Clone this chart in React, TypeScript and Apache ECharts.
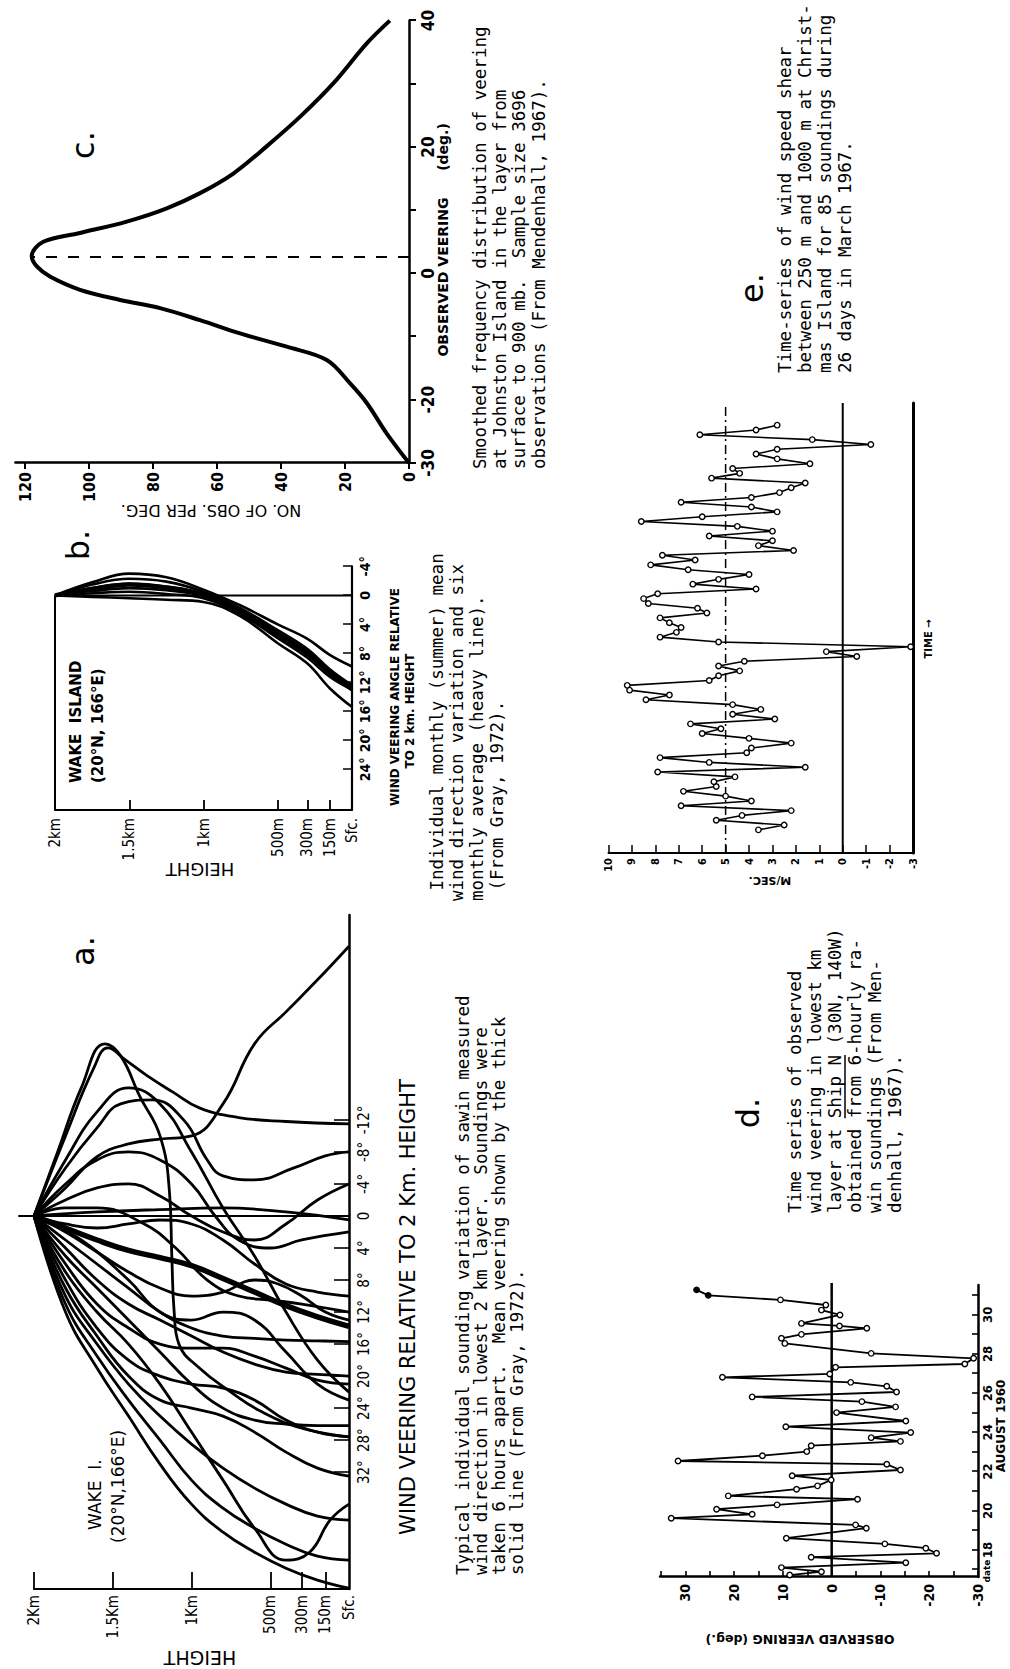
import React, { useEffect, useRef } from 'react';
import * as echarts from 'echarts';

// Landscape drawing surface (the page is the figure turned a quarter turn)
const W = 1669;
const H = 1010;

// ---------- Panel a: individual soundings, Wake I. ([veering deg, height m]) ----------
const A_CURVES: number[][][] = [
  [[0, 2000], [-3.5, 1800], [-7.4, 1600], [-9, 1400], [-9.6, 1200], [-10, 1000], [-14, 800], [-21.5, 600], [-25.5, 400], [-29.5, 200], [-33.7, 0]],
  [[0, 2000], [-10, 1800], [-18.5, 1620], [-21, 1530], [-19.5, 1420], [-17.5, 1280], [-15.5, 1120], [-13.5, 950], [-12.3, 700], [-11.8, 400], [-11.5, 0]],
  [[0, 2000], [-8, 1850], [-16, 1700], [-21.5, 1550], [-20, 1450], [-15, 1330], [-10, 1200], [-3, 1140], [5, 1125], [12, 1110], [16, 1080], [19, 950], [22, 750], [24.5, 550], [26.5, 300], [27.6, 0]],
  [[0, 2000], [-6, 1800], [-11, 1600], [-14, 1450], [-14.5, 1250], [-12, 1050], [-7, 900], [-5, 800], [-4.5, 600], [-6, 350], [-7.5, 150], [-8, 0]],
  [[0, 2000], [-4, 1800], [-7, 1600], [-8, 1400], [-7, 1200], [-4, 1000], [0, 850], [3, 700], [4, 500], [3, 300], [2, 0]],
  [[0, 2000], [-2, 1800], [-3.5, 1600], [-4, 1400], [-2.5, 1200], [0, 1000], [2, 800], [3, 600], [1, 400], [-2, 200], [-4, 0]],
  [[0, 2000], [-0.5, 1600], [-0.8, 1200], [-1, 800], [-0.5, 400], [0.5, 0]],
  [[0, 2000], [1, 1800], [1.5, 1600], [1, 1400], [0.5, 1200], [1, 1000], [3, 800], [6, 600], [8.5, 400], [9.5, 200], [10, 0]],
  [[0, 2000], [2, 1800], [4.5, 1600], [7, 1400], [9, 1200], [10, 1000], [9.5, 800], [8, 600], [8.5, 450], [10, 300], [12, 150], [13, 0]],
  [[0, 2000], [3, 1800], [6, 1600], [9, 1400], [12, 1200], [14, 1000], [15, 800], [15.3, 600], [15.5, 400], [15.6, 200], [15.7, 0]],
  [[0, 2000], [4, 1800], [8, 1600], [11, 1400], [13, 1200], [15, 1000], [17, 800], [18.5, 600], [19.5, 400], [19.8, 200], [20, 0]],
  [[0, 2000], [6, 1800], [11, 1600], [14, 1400], [16, 1200], [16.5, 1000], [16.5, 800], [17.5, 600], [19, 400], [20.5, 200], [21, 0]],
  [[0, 2000], [5, 1800], [9, 1600], [13, 1400], [17, 1200], [21, 1000], [24, 800], [25.5, 600], [26, 400], [26.2, 200], [26.2, 0]],
  [[0, 2000], [8, 1800], [14, 1600], [18, 1400], [20, 1200], [21, 1000], [21.5, 800], [23, 600], [25.5, 400], [27, 200], [27.6, 0]],
  [[0, 2000], [9, 1800], [15, 1600], [20, 1400], [23, 1200], [24, 1000], [25, 800], [27, 600], [29.5, 400], [31.5, 200], [32.5, 0]],
  [[0, 2000], [10, 1800], [16, 1600], [21, 1400], [25, 1200], [28.5, 1000], [31.5, 800], [34, 600], [36, 400], [37.5, 200], [38, 0]],
  [[0, 2000], [11, 1800], [17.5, 1600], [23, 1400], [28, 1200], [33, 1000], [36.5, 800], [39, 600], [41, 400], [42.5, 200], [43, 0]],
  [[0, 2000], [12, 1800], [19, 1600], [25, 1400], [31, 1200], [36, 1000], [39.5, 800], [42, 600], [44, 400], [45.5, 200], [46.5, 0]],
  [[0, 2000], [7, 1800], [12, 1600], [16, 1400], [21, 1200], [27, 1000], [33, 800], [39, 600], [43, 400], [42, 250], [38, 120], [36, 0]],
  [[0, 2000], [-7, 1800], [-13, 1600], [-16, 1400], [-14, 1200], [-8, 1000], [-1, 800], [5, 600], [12, 400], [18, 200], [22, 0]],
  [[0, 2000], [3, 1700], [8, 1400], [12, 1200], [13, 1000], [12, 800], [13, 600], [17, 400], [21, 200], [23, 0]],
  [[0, 2000], [-1, 1800], [-1, 1600], [1, 1300], [4, 1100], [8, 900], [10, 700], [10.5, 500], [11, 300], [12, 0]],
];
const A_MEAN: number[][] = [[0, 2000], [1.5, 1800], [3, 1600], [4.3, 1400], [5.2, 1200], [6.2, 1000], [7.8, 800], [9.5, 600], [11.2, 400], [12.6, 200], [13.8, 0]];
const A_X_MIN = -37.6;
const A_X_MAX = 46.6;
const A_ZERO_TOP = 2100;
const A_X_TICKS = [-12, -8, -4, 0, 4, 8, 12, 16, 20, 24, 28, 32];
const A_Y_TICKS = [150, 300, 500, 1000, 1500, 2000];
const A_Y_LABEL_VALUES = [0, 150, 300, 500, 1000, 1500, 2000];
const A_Y_LABELS = ['Sfc.', '150m', '300m', '500m', '1Km', '1.5Km', '2Km'];

// ---------- Panel b: monthly means, Wake Island ----------
const B_HEIGHTS = [2000, 1750, 1500, 1250, 1000, 750, 500, 300, 150, 0];
const B_CURVES = [
  [0, -1.8, -3.0, -2.5, -0.8, 1.4, 4.0, 6.0, 8.2, 9.8],
  [0, -1.5, -2.3, -1.9, -0.5, 1.8, 4.8, 7.4, 10.2, 12.4],
  [0, -1.0, -1.6, -1.2, -0.2, 2.1, 5.2, 7.8, 10.4, 12.8],
  [0, -0.6, -1.0, -0.7, 0.1, 2.4, 5.6, 8.2, 10.8, 13.1],
  [0, 0.2, 0.4, 0.6, 0.9, 2.9, 6.6, 9.4, 12.8, 15.4],
  [0, -0.3, -0.5, -0.2, 0.4, 2.6, 5.9, 8.6, 11.2, 13.0],
];
const B_MEAN = [0, -0.9, -1.5, -1.1, -0.1, 2.2, 5.3, 7.9, 10.6, 12.7];
const B_X_MAX = 29.6;
const B_X_TICKS = [-4, 0, 4, 8, 12, 16, 20, 24];
const B_Y_LABELS = ['Sfc.', '150m', '300m', '500m', '1km', '1.5km', '2km'];

// ---------- Panel c: frequency distribution, Johnston Island ----------
const C_VEER = [-30, -25.3, -20.5, -17.4, -13.7, -11.6, -9.5, -7.4, -5.5, -4.2, -2.6, -0.5, 1.1, 2.7, 5.0, 6.4, 8.2, 10.3, 12.7, 15.8, 20.1, 24.8, 30.1, 36.4, 40];
const C_COUNT = [0, 7, 13.2, 18.4, 25.7, 38.2, 52.8, 65.3, 77.8, 90.3, 102.8, 112.2, 116.3, 117.9, 114.3, 102.8, 88.2, 75.7, 65.3, 54.9, 44.5, 34, 23.6, 13.2, 6];
const C_PEAK_VEER = 2.6;
const C_PEAK_COUNT = 118;
const C_X_TICKS = [-30, -20, -10, 0, 10, 20, 30, 40];
const C_X_LABELS = [-30, -20, 0, 20, 40];
const C_Y_TICKS = [0, 20, 40, 60, 80, 100, 120];

// ---------- Panel d: time series of veering, Ship N, August 1960 ----------
const D_DAY = [16.72, 16.89, 17.1, 17.35, 17.63, 17.83, 18.09, 18.31, 18.6, 19.11, 19.28, 19.62, 19.82, 20.08, 20.3, 20.59, 20.76, 21.1, 21.27, 21.57, 21.79, 22.08, 22.37, 22.54, 22.81, 23.02, 23.32, 23.54, 23.73, 23.99, 24.29, 24.58, 25.01, 25.3, 25.57, 25.81, 26.06, 26.35, 26.55, 26.81, 26.98, 27.32, 27.49, 27.78, 28.03, 28.54, 28.8, 29.0, 29.31, 29.43, 29.56, 29.99, 30.24, 30.5, 30.76, 30.99, 31.27];
const D_VEER = [8.6, 2.1, 10.3, -15.2, 4.2, -21.5, -19.3, -10.9, 9.3, -7.1, -4.9, 32.9, 16.3, 23.6, 11.2, -5.3, 21.2, 7.2, 2.9, 0.1, 8.1, -14.1, -11.3, 31.5, 14.2, 5.1, 4.2, -14.1, -8.1, -16.2, 9.4, -15.2, -1.0, -13.1, -6.2, 16.3, -13.3, -11.3, -3.9, 22.4, 0.4, -0.8, -27.3, -29.1, -8.1, 9.6, 10.3, 6.2, -7.2, -1.6, 6.2, -1.7, 2.1, 1.2, 10.5, 25.3, 27.7];
const D_X_MIN = 16.62;
const D_X_MAX = 31.52;
const D_ZERO_END = 33.1;
const D_X_TICKS = [17, 18, 19, 20, 21, 22, 23, 24, 25, 26, 27, 28, 29, 30, 31];
const D_X_LABELS = [18, 20, 22, 24, 26, 28, 30];
const D_Y_TICKS = [-30, -25, -20, -15, -10, -5, 0, 5, 10, 15, 20, 25, 30, 35];
const D_Y_LABELS = [-30, -20, -10, 0, 10, 20, 30];

// ---------- Panel e: wind speed shear, Christmas Island, 85 soundings ----------
const E_SHEAR = [3.6, 2.5, 5.4, 4.3, 2.2, 6.9, 3.9, 5.0, 6.8, 5.4, 5.5, 4.6, 7.9, 1.6, 5.7, 7.8, 4.1, 3.9, 2.2, 4.0, 6.0, 5.2, 6.5, 2.9, 4.7, 3.5, 4.7, 8.4, 7.4, 9.1, 9.2, 5.7, 5.3, 4.4, 5.3, 4.2, -0.6, 0.7, -2.9, 5.3, 7.8, 7.1, 6.9, 7.4, 7.8, 5.8, 6.2, 8.3, 8.5, 7.9, 3.7, 6.4, 5.3, 4.0, 6.6, 8.2, 6.3, 7.7, 2.1, 3.6, 3.0, 5.7, 3.0, 4.5, 8.6, 6.0, 2.8, 3.9, 6.9, 3.9, 2.7, 2.2, 1.6, 5.6, 4.4, 4.7, 1.4, 2.8, 3.7, 2.8, -1.2, 1.3, 6.1, 3.7, 2.8];
const E_X_MIN = -4.8;
const E_X_MAX = 88.6;
const E_REF_MEAN = 5;
const E_Y_TICKS = [-3, -2, -1, 0, 1, 2, 3, 4, 5, 6, 7, 8, 9, 10];

// ---------- Captions ----------
const A_CAPTION = [
  'Typical individual sounding variation of sawin measured',
  'wind direction in lowest 2 km layer.  Soundings were',
  'taken 6 hours apart.  Mean veering shown by the thick',
  'solid line (From Gray, 1972).',
];
const B_CAPTION = [
  ' Individual monthly (summer) mean',
  'wind direction variation and six',
  'monthly average (heavy line).',
  ' (From Gray, 1972).',
];
const C_CAPTION = [
  'Smoothed frequency distribution of veering',
  'at Johnston Island in the layer from',
  'surface to 900 mb.  Sample size 3696',
  'observations (From Mendenhall, 1967).',
];
const D_CAPTION = [
  'Time series of observed',
  'wind veering in lowest km',
  'layer at Ship N (30N, 140W)',
  'obtained from 6-hourly ra-',
  'win soundings (From Men-',
  'denhall, 1967).',
];
const E_CAPTION = [
  'Time-series of wind speed shear',
  'between 250 m and 1000 m at Christ-',
  'mas Island for 85 soundings during',
  '26 days in March 1967.',
];

const LETTER = '"Liberation Sans Narrow", "DejaVu Sans Condensed", Roboto, "Liberation Sans", sans-serif';
const SANS = '"DejaVu Sans", "Liberation Sans", sans-serif';
const MONO = '"DejaVu Sans Mono", "Liberation Mono", monospace';
const CAP_SIZE = 17.5;
const CAP_ADV = CAP_SIZE * 0.602;

function T(text: string, x: number, y: number, font: string, align = 'left', rotation = 0) {
  return {
    type: 'text',
    x,
    y,
    rotation,
    silent: true,
    style: {
      text,
      font,
      fill: '#000',
      textAlign: align,
      textVerticalAlign: 'middle',
      align,
      verticalAlign: 'middle',
    },
  };
}

function caption(lines: string[], x: number, y: number, step: number) {
  return lines.map((l, i) => T(l, x, y + i * step, `${CAP_SIZE}px ${MONO}`, 'left'));
}

const deg = (v: number) => (v === 0 ? '0' : `${v}°`);

function valueAxis(grid: number, min: number, max: number, extra: any) {
  return {
    gridIndex: grid,
    type: 'value',
    min,
    max,
    splitLine: { show: false },
    ...extra,
  };
}

function buildOption() {
  const lineBase = {
    type: 'line',
    showSymbol: false,
    symbol: 'none',
    silent: true,
    animation: false,
    color: '#000',
  };

  const series: any[] = [];

  // panel a
  A_CURVES.forEach((c) => {
    series.push({
      ...lineBase,
      xAxisIndex: 0,
      yAxisIndex: 0,
      smooth: 0.45,
      data: c,
      lineStyle: { color: '#000', width: 2.8 },
    });
  });
  series.push({
    ...lineBase,
    xAxisIndex: 0,
    yAxisIndex: 0,
    smooth: 0.45,
    data: A_MEAN,
    lineStyle: { color: '#000', width: 5.5 },
  });
  series.push({
    ...lineBase,
    xAxisIndex: 0,
    yAxisIndex: 0,
    clip: false,
    data: [[0, A_ZERO_TOP], [0, 0]],
    lineStyle: { color: '#000', width: 2 },
  });

  // panel b
  B_CURVES.forEach((c) => {
    series.push({
      ...lineBase,
      xAxisIndex: 1,
      yAxisIndex: 1,
      smooth: 0.4,
      data: B_HEIGHTS.map((h, i) => [c[i], h]),
      lineStyle: { color: '#000', width: 2.6 },
    });
  });
  series.push({
    ...lineBase,
    xAxisIndex: 1,
    yAxisIndex: 1,
    smooth: 0.4,
    data: B_HEIGHTS.map((h, i) => [B_MEAN[i], h]),
    lineStyle: { color: '#000', width: 4.5 },
  });
  series.push({
    ...lineBase,
    xAxisIndex: 1,
    yAxisIndex: 1,
    clip: false,
    data: [[B_X_MAX, 2000], [0, 2000], [0, 0]],
    lineStyle: { color: '#000', width: 2 },
  });

  // panel c
  series.push({
    ...lineBase,
    xAxisIndex: 2,
    yAxisIndex: 2,
    smooth: 0.35,
    data: C_VEER.map((v, i) => [v, C_COUNT[i]]),
    lineStyle: { color: '#000', width: 4 },
  });
  series.push({
    ...lineBase,
    xAxisIndex: 2,
    yAxisIndex: 2,
    data: [[C_PEAK_VEER, 0], [C_PEAK_VEER, C_PEAK_COUNT]],
    lineStyle: { color: '#000', width: 2, type: [11, 11] },
  });

  // panel d
  series.push({
    ...lineBase,
    xAxisIndex: 3,
    yAxisIndex: 3,
    clip: false,
    data: [[D_X_MIN, 0], [D_ZERO_END, 0]],
    lineStyle: { color: '#000', width: 2.5 },
  });
  series.push({
    type: 'line',
    xAxisIndex: 3,
    yAxisIndex: 3,
    silent: true,
    animation: false,
    color: '#000',
    symbol: 'circle',
    symbolSize: 5.5,
    showSymbol: true,
    lineStyle: { color: '#000', width: 1.8 },
    itemStyle: { color: '#fff', borderColor: '#000', borderWidth: 1.4 },
    data: D_DAY.map((d, i) =>
      i >= D_DAY.length - 2
        ? { value: [d, D_VEER[i]], itemStyle: { color: '#000' } }
        : { value: [d, D_VEER[i]] }
    ),
    z: 4,
  });

  // panel e
  series.push({
    ...lineBase,
    xAxisIndex: 4,
    yAxisIndex: 4,
    data: [[E_X_MIN, 0], [E_X_MAX, 0]],
    lineStyle: { color: '#000', width: 2 },
  });
  series.push({
    ...lineBase,
    xAxisIndex: 4,
    yAxisIndex: 4,
    data: [[E_X_MIN, E_REF_MEAN], [E_X_MAX, E_REF_MEAN]],
    lineStyle: { color: '#000', width: 1.5, type: [9, 4, 2, 4] },
  });
  series.push({
    type: 'line',
    xAxisIndex: 4,
    yAxisIndex: 4,
    silent: true,
    animation: false,
    color: '#000',
    symbol: 'circle',
    symbolSize: 5.5,
    showSymbol: true,
    lineStyle: { color: '#000', width: 1.6 },
    itemStyle: { color: '#fff', borderColor: '#000', borderWidth: 1.4 },
    data: E_SHEAR.map((v, i) => [i, v]),
    z: 4,
  });

  const tickStyle = (w: number) => ({ color: '#000', width: w });
  const lab = (size: number, weight = 'normal', margin = 6) => ({
    show: true,
    color: '#000',
    fontFamily: LETTER,
    fontSize: size,
    fontWeight: weight,
    margin,
    showMinLabel: true,
    showMaxLabel: true,
  });

  const xAxis = [
    valueAxis(0, A_X_MIN, A_X_MAX, {
      inverse: true,
      position: 'bottom',
      axisLine: { show: true, onZero: false, lineStyle: { color: '#000', width: 2.5 } },
      axisTick: { show: true, inside: true, length: 15, lineStyle: tickStyle(1.6), customValues: A_X_TICKS },
      axisLabel: { ...lab(15, 'normal', 7), customValues: A_X_TICKS, formatter: deg },
    }),
    valueAxis(1, -4, B_X_MAX, {
      inverse: true,
      position: 'bottom',
      axisLine: { show: true, onZero: false, lineStyle: { color: '#000', width: 2.2 } },
      axisTick: { show: true, inside: true, length: 9, lineStyle: tickStyle(1.5), customValues: B_X_TICKS },
      axisLabel: { ...lab(14, 'bold', 6), customValues: B_X_TICKS, formatter: deg },
    }),
    valueAxis(2, -30, 40, {
      position: 'bottom',
      axisLine: { show: true, onZero: false, lineStyle: { color: '#000', width: 2.5 } },
      axisTick: { show: true, inside: false, length: 7, lineStyle: tickStyle(2), customValues: C_X_TICKS },
      axisLabel: { ...lab(17, 'bold', 10), customValues: C_X_LABELS },
    }),
    valueAxis(3, D_X_MIN, D_X_MAX, {
      position: 'bottom',
      axisLine: { show: true, onZero: false, lineStyle: { color: '#000', width: 2.5 } },
      axisTick: { show: true, inside: true, length: 6, lineStyle: tickStyle(1.6), customValues: D_X_TICKS },
      axisLabel: { ...lab(13, 'bold', 3), customValues: D_X_LABELS },
    }),
    valueAxis(4, E_X_MIN, E_X_MAX, {
      position: 'bottom',
      axisLine: { show: true, onZero: false, lineStyle: { color: '#000', width: 3 } },
      axisTick: { show: false },
      axisLabel: { show: false },
    }),
  ];

  const yAxis = [
    valueAxis(0, 0, 2000, {
      position: 'left',
      axisLine: { show: true, onZero: false, lineStyle: { color: '#000', width: 2.2 } },
      axisTick: { show: true, inside: true, length: 17, lineStyle: tickStyle(1.8), customValues: A_Y_TICKS },
      axisLabel: {
        ...lab(15, 'normal', 6),
        customValues: A_Y_LABEL_VALUES,
        formatter: (v: number) => A_Y_LABELS[A_Y_LABEL_VALUES.indexOf(v)] || '',
      },
    }),
    valueAxis(1, 0, 2000, {
      position: 'left',
      axisLine: { show: true, onZero: false, lineStyle: { color: '#000', width: 2.2 } },
      axisTick: { show: true, inside: true, length: 10, lineStyle: tickStyle(1.8), customValues: A_Y_TICKS },
      axisLabel: {
        ...lab(15, 'normal', 8),
        customValues: A_Y_LABEL_VALUES,
        formatter: (v: number) => B_Y_LABELS[A_Y_LABEL_VALUES.indexOf(v)] || '',
      },
    }),
    valueAxis(2, 0, 123, {
      position: 'left',
      axisLine: { show: true, onZero: false, lineStyle: { color: '#000', width: 2.5 } },
      axisTick: { show: true, inside: false, length: 6, lineStyle: tickStyle(2), customValues: C_Y_TICKS },
      axisLabel: { ...lab(16, 'bold', 9), customValues: C_Y_TICKS },
    }),
    valueAxis(3, -30, 35.2, {
      position: 'left',
      axisLine: { show: true, onZero: false, lineStyle: { color: '#000', width: 2.5 } },
      axisTick: { show: true, inside: true, length: 6, lineStyle: tickStyle(1.6), customValues: D_Y_TICKS },
      axisLabel: { ...lab(14, 'bold', 7), customValues: D_Y_LABELS },
    }),
    valueAxis(4, -3, 10, {
      position: 'left',
      axisLine: { show: true, onZero: false, lineStyle: { color: '#000', width: 2 } },
      axisTick: { show: true, inside: true, length: 8, lineStyle: tickStyle(1.5), customValues: E_Y_TICKS },
      axisLabel: { ...lab(11, 'bold', 5), customValues: E_Y_TICKS },
    }),
  ];

  const grid = [
    { left: 80, top: 34, width: 674, height: 315 },
    { left: 859, top: 55, width: 243.6, height: 297 },
    { left: 1206, top: 15.4, width: 442.4, height: 393.6 },
    { left: 92, top: 660, width: 292, height: 318 },
    { left: 816, top: 608.5, width: 450, height: 304.5 },
  ].map((g) => ({ ...g, containLabel: false, outerBoundsMode: 'none', show: false }));

  const big = `32px ${SANS}`;
  const graphicEls: any[] = [
    // panel a
    T('a.', 718, 83, big, 'center'),
    T('WAKE  I.', 139, 95, `17px ${SANS}`),
    T('(20°N,166°E)', 126, 118, `17px ${SANS}`),
    T('HEIGHT', 11, 200, `19px ${SANS}`, 'center', Math.PI / 2),
    T('WIND VEERING RELATIVE TO 2 Km. HEIGHT', 362, 408, `21px ${SANS}`, 'center'),
    ...caption(A_CAPTION, 94, 463, 18),
    // panel b
    T('b.', 1124, 78, big, 'center'),
    T('WAKE  ISLAND', 886, 76, `bold 15px ${SANS}`),
    T('(20°N, 166°E)', 886, 98, `bold 15px ${SANS}`),
    T('HEIGHT', 800, 200, `18px ${SANS}`, 'center', Math.PI / 2),
    T('WIND VEERING ANGLE RELATIVE', 972, 395, `bold 12px ${SANS}`, 'center'),
    T('TO 2 km. HEIGHT', 958, 410, `bold 12px ${SANS}`, 'center'),
    ...caption(B_CAPTION, 768, 437, 20),
    // panel c
    T('c.', 1524, 83, big, 'center'),
    T('NO. OF OBS. PER DEG.', 1159, 211, `16px ${SANS}`, 'center', Math.PI / 2),
    T('OBSERVED VEERING', 1392, 443, `bold 14px ${SANS}`, 'center'),
    T('(deg.)', 1522, 443, `bold 14px ${SANS}`, 'center'),
    ...caption(C_CAPTION, 1200, 480, 19.5),
    // panel d
    T('d.', 556, 748, big, 'center'),
    T('OBSERVED VEERING (deg.)', 30, 800, `bold 12.5px ${SANS}`, 'center', Math.PI / 2),
    T('date', 98, 987, `bold 9px ${SANS}`, 'center'),
    T('AUGUST 1960', 243, 1001, `bold 12px ${SANS}`, 'center'),
    ...caption(D_CAPTION, 456, 795, 20),
    {
      type: 'line',
      silent: true,
      shape: { x1: 456 + 9 * CAP_ADV, y1: 845, x2: 456 + 15 * CAP_ADV, y2: 845 },
      style: { stroke: '#000', lineWidth: 1.5 },
    },
    // panel e
    T('e.', 1381, 752, big, 'center'),
    T('M/SEC.', 789, 770, `bold 11px ${SANS}`, 'center', Math.PI / 2),
    T('TIME \u2192', 1030, 928, `bold 10px ${SANS}`, 'center'),
    ...caption(E_CAPTION, 1296, 785, 20),
  ];

  return {
    animation: false,
    backgroundColor: '#fff',
    grid,
    xAxis,
    yAxis,
    series,
    graphic: { elements: graphicEls },
  };
}

export default function App() {
  const ref = useRef<HTMLDivElement>(null);
  useEffect(() => {
    if (!ref.current) return;
    const chart = echarts.init(ref.current, undefined, { renderer: 'svg', width: W, height: H });
    chart.setOption(buildOption() as any);
    return () => chart.dispose();
  }, []);
  return (
    <div
      style={{
        position: 'absolute',
        left: 0,
        top: 0,
        width: 1010,
        height: 1669,
        overflow: 'hidden',
        background: '#fff',
      }}
    >
      <div
        ref={ref}
        style={{
          position: 'absolute',
          left: 0,
          top: 0,
          width: W,
          height: H,
          transformOrigin: '0 0',
          transform: `translate(0px, ${W}px) rotate(-90deg)`,
        }}
      />
    </div>
  );
}
